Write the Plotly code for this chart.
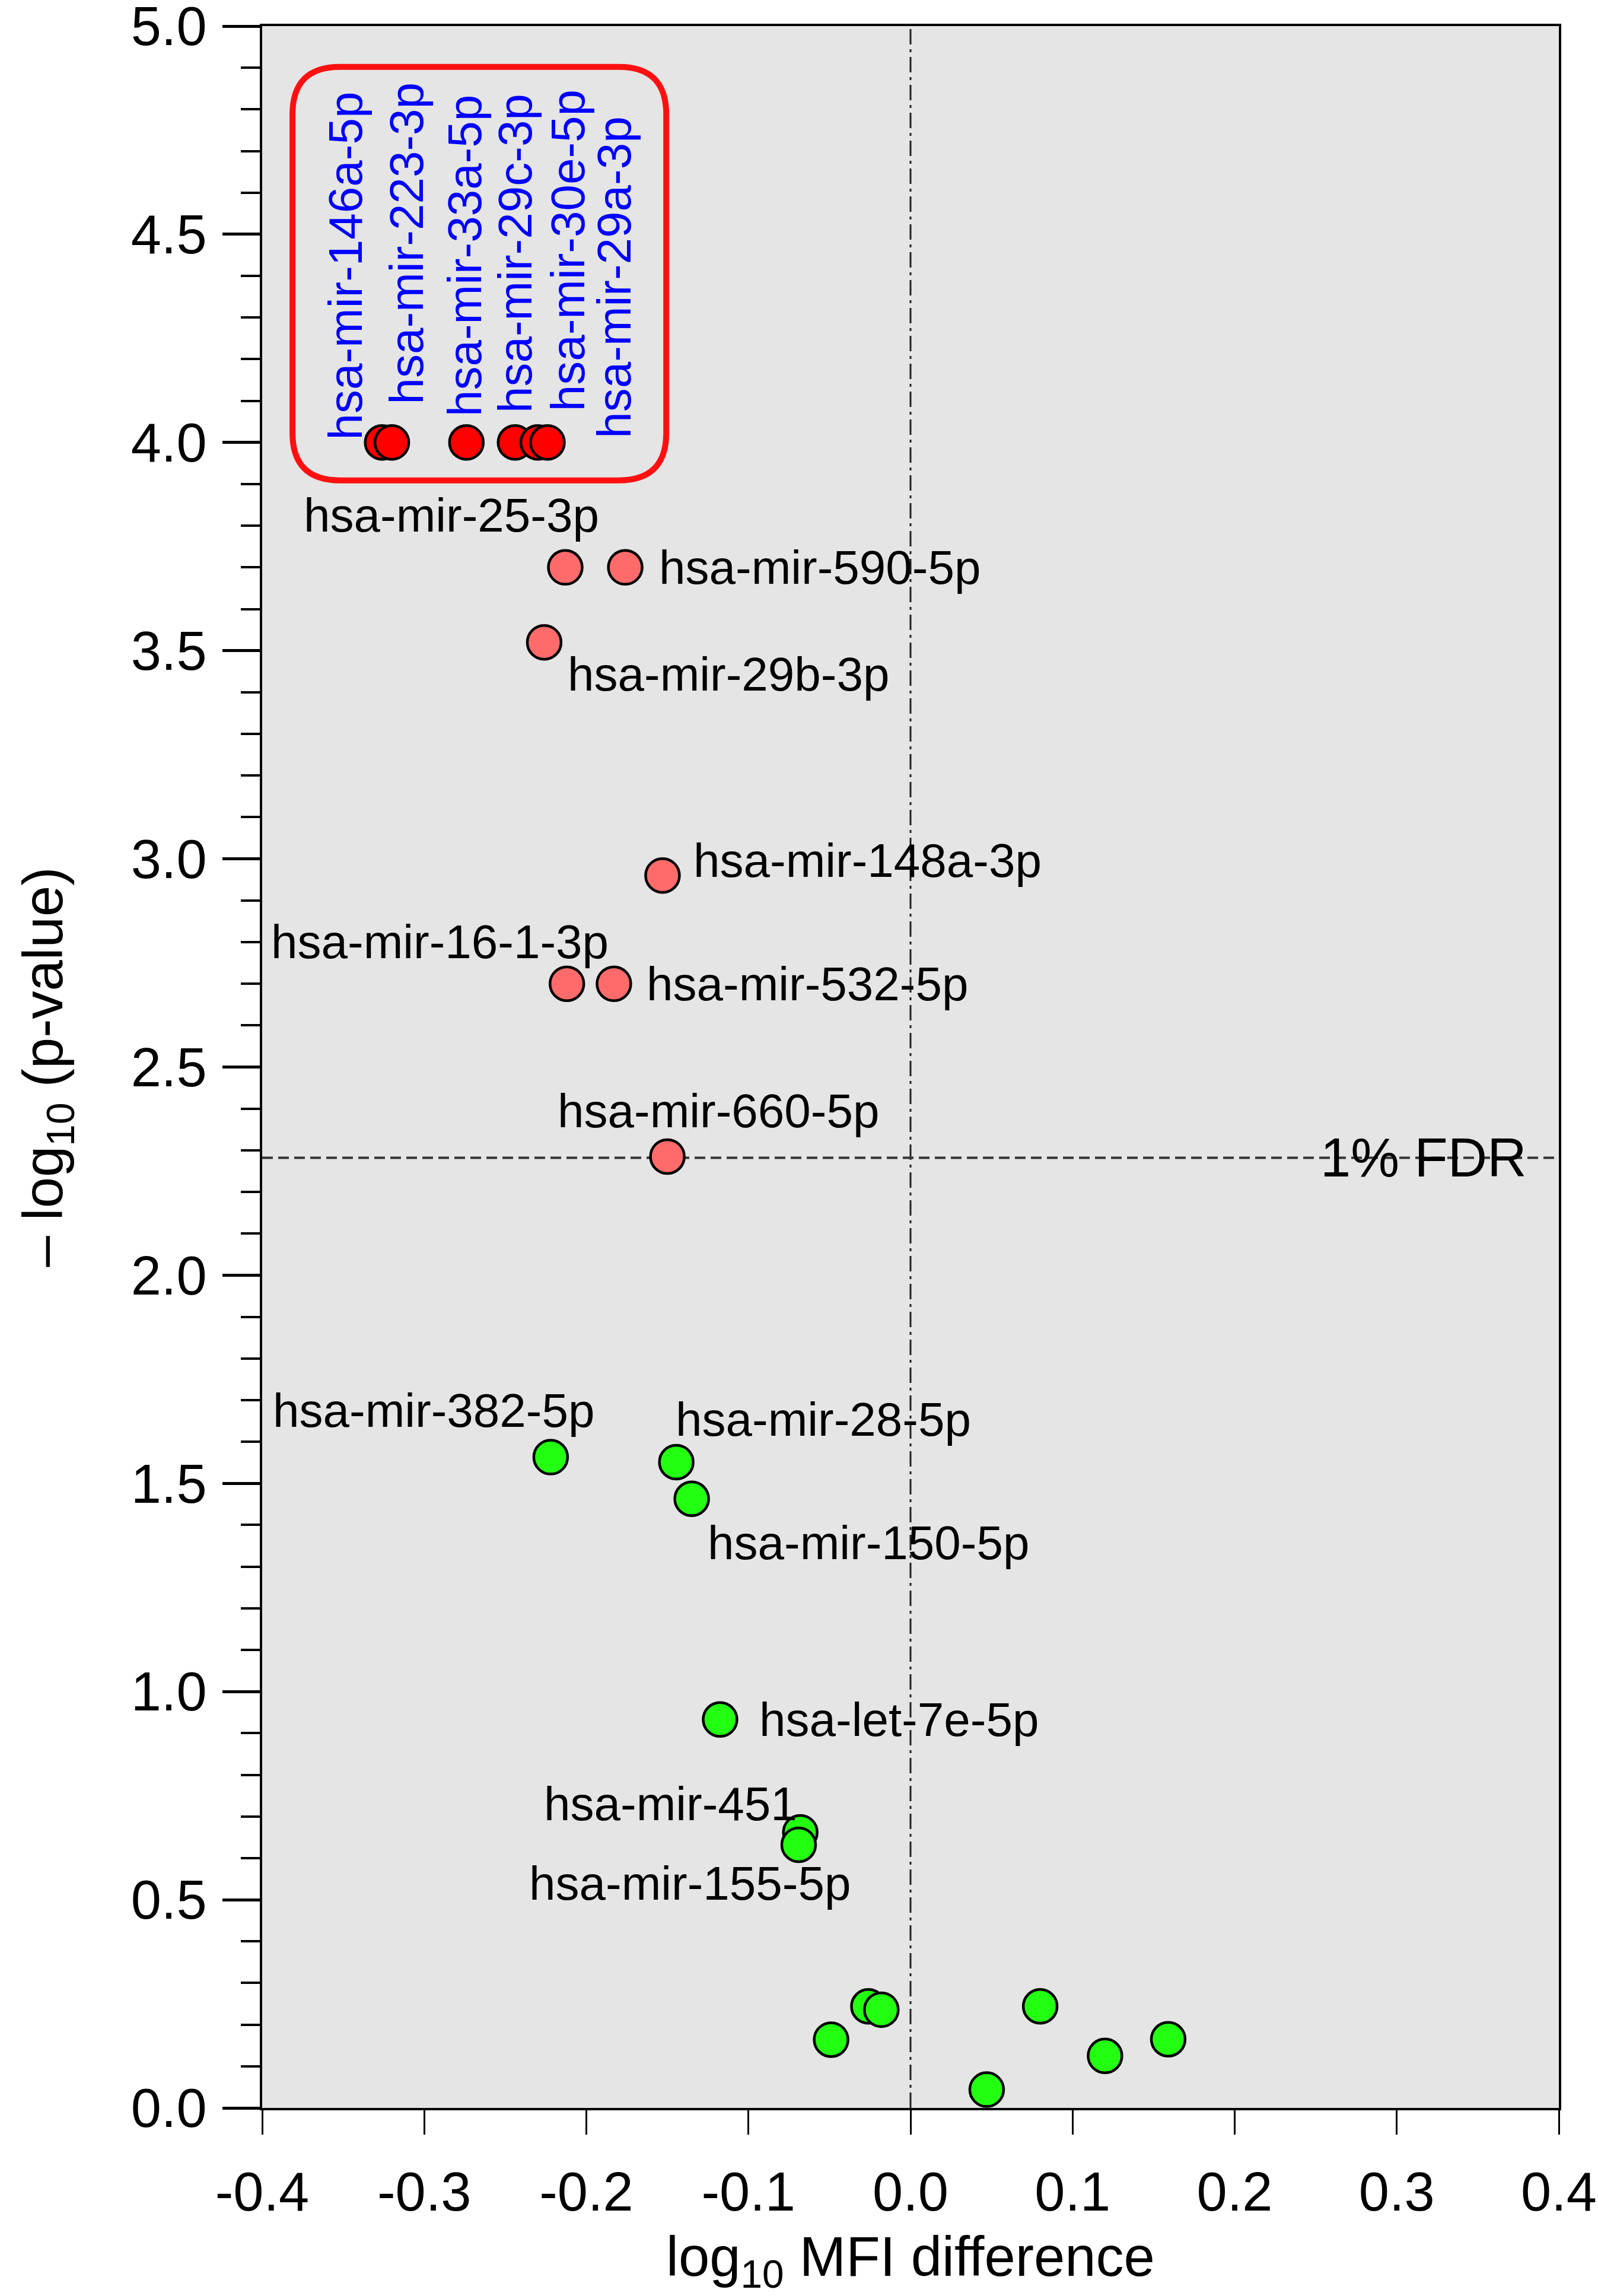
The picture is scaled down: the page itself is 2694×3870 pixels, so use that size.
import plotly.graph_objects as go

# ---- data ----
top_names = ["hsa-mir-146a-5p", "hsa-mir-223-3p", "hsa-mir-33a-5p",
             "hsa-mir-29c-3p", "hsa-mir-30e-5p", "hsa-mir-29a-3p"]
top_x = [-0.326, -0.320, -0.274, -0.244, -0.230, -0.224]
top_y = [4.0, 4.0, 4.0, 4.0, 4.0, 4.0]

sig_names = ["hsa-mir-25-3p", "hsa-mir-590-5p", "hsa-mir-29b-3p", "hsa-mir-148a-3p",
             "hsa-mir-16-1-3p", "hsa-mir-532-5p", "hsa-mir-660-5p"]
sig_x = [-0.213, -0.176, -0.226, -0.153, -0.212, -0.183, -0.150]
sig_y = [3.70, 3.70, 3.52, 2.96, 2.70, 2.70, 2.285]

ns_names = ["hsa-mir-382-5p", "hsa-mir-28-5p", "hsa-mir-150-5p", "hsa-let-7e-5p",
            "hsa-mir-451", "hsa-mir-155-5p", "", "", "", "", "", "", ""]
ns_x = [-0.222, -0.1445, -0.135, -0.1175, -0.068, -0.069,
        -0.026, -0.018, -0.049, 0.080, 0.047, 0.120, 0.159]
ns_y = [1.563, 1.551, 1.463, 0.933, 0.662, 0.632,
        0.244, 0.236, 0.164, 0.244, 0.044, 0.125, 0.165]

fdr_level = 2.282
x_ticks = [-0.4, -0.3, -0.2, -0.1, 0.0, 0.1, 0.2, 0.3, 0.4]
x_ticklabels = ["-0.4", "-0.3", "-0.2", "-0.1", "0.0", "0.1", "0.2", "0.3", "0.4"]

# label placement: (xanchor, xshift px, yshift px)
label_pos = {
    "hsa-mir-25-3p": ("center", -192, 88),
    "hsa-mir-590-5p": ("left", 55, 0),
    "hsa-mir-29b-3p": ("left", 38, -54),
    "hsa-mir-148a-3p": ("left", 50, 25),
    "hsa-mir-16-1-3p": ("center", -214, 71),
    "hsa-mir-532-5p": ("left", 53, 0),
    "hsa-mir-660-5p": ("center", 86, 77),
    "hsa-mir-382-5p": ("center", -197, 79),
    "hsa-mir-28-5p": ("left", -3, 72),
    "hsa-mir-150-5p": ("left", 25, -74),
    "hsa-let-7e-5p": ("left", 64, 0),
    "hsa-mir-451": ("right", -3, 48),
    "hsa-mir-155-5p": ("center", -183, -65),
}
# vertical labels in the red box: (xshift px, yshift px of label bottom)
top_label_pos = [(-62, 2), (25, 62), (-2, 42), (1, 48), (51, 50), (113, 5)]

FONT = "Liberation Sans, Arial, sans-serif"
W, H = 2694, 3870
ML, MR, MT, MB = 442, 66, 44, 317
XR = [-0.4, 0.4]
YR = [0, 5]
px_x = (W - ML - MR) / (XR[1] - XR[0])
px_y = (H - MT - MB) / (YR[1] - YR[0])

mk = dict(size=57, line=dict(color="black", width=4.5))

fig = go.Figure()
fig.add_trace(go.Scatter(x=ns_x, y=ns_y, mode="markers", cliponaxis=False,
                         marker=dict(color="#22FF11", **mk), hoverinfo="skip"))
fig.add_trace(go.Scatter(x=sig_x, y=sig_y, mode="markers", cliponaxis=False,
                         marker=dict(color="#FF6B6B", **mk), hoverinfo="skip"))
fig.add_trace(go.Scatter(x=top_x, y=top_y, mode="markers", cliponaxis=False,
                         marker=dict(color="#FF0000", **mk), hoverinfo="skip"))

annotations = []
for names, xs, ys in [(sig_names, sig_x, sig_y), (ns_names, ns_x, ns_y)]:
    for n, x, y in zip(names, xs, ys):
        if not n:
            continue
        anc, dx, dy = label_pos[n]
        annotations.append(dict(x=x, y=y, text=n, showarrow=False, xanchor=anc,
                                yanchor="middle", xshift=dx, yshift=dy,
                                font=dict(family=FONT, size=80, color="black")))

for n, x, y, (dx, dy) in zip(top_names, top_x, top_y, top_label_pos):
    annotations.append(dict(x=x, y=y, text=n, showarrow=False, textangle=-90,
                            xanchor="center", yanchor="bottom", xshift=dx, yshift=dy,
                            font=dict(family=FONT, size=80, color="#0000FF")))

annotations.append(dict(x=0.3165, y=fdr_level, text="1% FDR", showarrow=False,
                        xanchor="center", yanchor="middle",
                        font=dict(family=FONT, size=92, color="black")))

# rounded red box around the top group
bx0, bx1, by0, by1 = -0.3813, -0.1507, 3.909, 4.902
rx, ry = 80 / px_x, 80 / px_y
box_path = (f"M {bx0+rx},{by1} L {bx1-rx},{by1} Q {bx1},{by1} {bx1},{by1-ry} "
            f"L {bx1},{by0+ry} Q {bx1},{by0} {bx1-rx},{by0} "
            f"L {bx0+rx},{by0} Q {bx0},{by0} {bx0},{by0+ry} "
            f"L {bx0},{by1-ry} Q {bx0},{by1} {bx0+rx},{by1} Z")

shapes = [
    dict(type="line", xref="x", yref="y", x0=0, x1=0, y0=0, y1=5, layer="below",
         line=dict(color="#222222", width=3, dash="26px,8px,5px,8px")),
    dict(type="line", xref="x", yref="y", x0=-0.4, x1=0.4, y0=fdr_level, y1=fdr_level,
         layer="below", line=dict(color="#333333", width=4, dash="18px,9px")),
    dict(type="path", xref="x", yref="y", path=box_path, layer="below",
         line=dict(color="#FF1010", width=10)),
]

fig.update_layout(
    width=W, height=H, autosize=False,
    margin=dict(l=ML, r=MR, t=MT, b=MB),
    paper_bgcolor="white", plot_bgcolor="#E5E5E5",
    showlegend=False,
    font=dict(family=FONT, color="black"),
    annotations=annotations, shapes=shapes,
)
fig.update_xaxes(range=XR, tickvals=x_ticks, ticktext=x_ticklabels,
                 ticks="outside", ticklen=41, tickwidth=3, tickcolor="black",
                 tickfont=dict(family=FONT, size=92), ticklabelstandoff=18,
                 ticklabeloverflow="allow", automargin=False,
                 showgrid=False, zeroline=False,
                 showline=True, linecolor="black", linewidth=4, mirror=True,
                 title=dict(text="log<sub>10</sub> MFI difference",
                            font=dict(family=FONT, size=94), standoff=50))
fig.update_yaxes(range=YR, dtick=0.5, tick0=0, tickformat=".1f",
                 ticks="outside", ticklen=63, tickwidth=5, tickcolor="black",
                 minor=dict(dtick=0.1, ticks="outside", ticklen=32, tickwidth=4,
                            tickcolor="black"),
                 tickfont=dict(family=FONT, size=92), ticklabelstandoff=8,
                 ticklabeloverflow="allow", automargin=False,
                 showgrid=False, zeroline=False,
                 showline=True, linecolor="black", linewidth=4, mirror=True,
                 title=dict(text="– log<sub>10</sub> (p-value)",
                            font=dict(family=FONT, size=94), standoff=85))

fix_page = ("document.body.style.margin='0';"
            "document.body.style.overflow='hidden';"
            "document.documentElement.style.overflow='hidden';"
            "Plotly.relayout('{plot_id}', {width: 2694, height: 3870});")
fig.write_html("out.html", config={"responsive": False, "displayModeBar": False},
               post_script=fix_page)
